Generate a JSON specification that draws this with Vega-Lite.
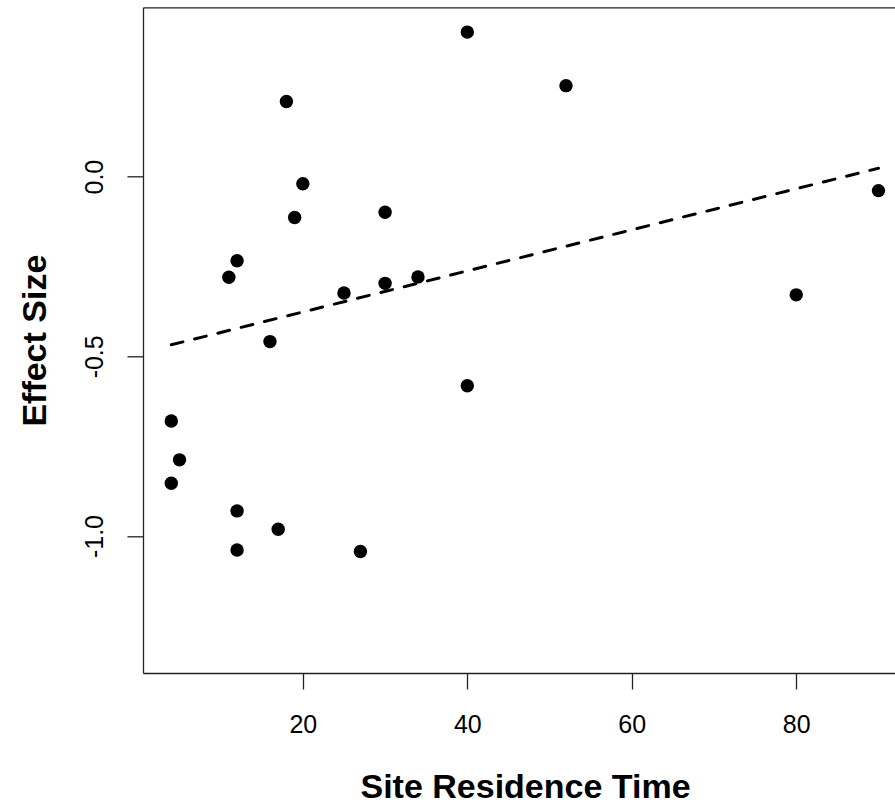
{
  "$schema": "https://vega.github.io/schema/vega-lite/v6.json",
  "width": 752,
  "height": 665.7,
  "autosize": {"type": "none"},
  "padding": {"left": 143, "top": 7.3, "right": 0, "bottom": 131},
  "background": "white",
  "config": {
    "view": {"stroke": null},
    "font": "Liberation Sans",
    "axis": {
      "grid": false,
      "domainColor": "#222",
      "domainWidth": 1.3,
      "tickColor": "#222",
      "tickWidth": 1.3,
      "tickSize": 16,
      "labelColor": "black",
      "labelFont": "Liberation Sans",
      "labelFontSize": 25,
      "labelFlush": false,
      "labelOverlap": false,
      "titleColor": "black",
      "titleFont": "Liberation Sans",
      "titleFontSize": 34,
      "titleFontWeight": "bold"
    }
  },
  "datasets": {
    "points": [
      {"time": 40, "effect": 0.402},
      {"time": 52, "effect": 0.253},
      {"time": 18, "effect": 0.209},
      {"time": 20, "effect": -0.020},
      {"time": 19, "effect": -0.114},
      {"time": 30, "effect": -0.099},
      {"time": 12, "effect": -0.234},
      {"time": 11, "effect": -0.280},
      {"time": 25, "effect": -0.324},
      {"time": 30, "effect": -0.297},
      {"time": 34, "effect": -0.279},
      {"time": 16, "effect": -0.459},
      {"time": 40, "effect": -0.582},
      {"time": 90, "effect": -0.039},
      {"time": 80, "effect": -0.329},
      {"time": 4, "effect": -0.680},
      {"time": 5, "effect": -0.788},
      {"time": 4, "effect": -0.853},
      {"time": 12, "effect": -0.930},
      {"time": 17, "effect": -0.981},
      {"time": 12, "effect": -1.039},
      {"time": 27, "effect": -1.043}
    ],
    "fit": [
      {"time": 4, "effect": -0.468},
      {"time": 90, "effect": 0.0233}
    ]
  },
  "resolve": {"axis": {"x": "independent"}},
  "layer": [
    {
      "data": {"name": "points"},
      "mark": {"type": "circle", "size": 180, "color": "black", "opacity": 1},
      "encoding": {
        "x": {
          "field": "time",
          "type": "quantitative",
          "scale": {"domain": [0.56, 92.01], "nice": false, "zero": false},
          "axis": {
            "orient": "bottom",
            "values": [20, 40, 60, 80],
            "labelPadding": 23,
            "title": "Site Residence Time",
            "titleX": 382,
            "titleY": 124,
            "titleBaseline": "alphabetic",
            "titleAlign": "center"
          }
        },
        "y": {
          "field": "effect",
          "type": "quantitative",
          "scale": {"domain": [-1.381, 0.471], "nice": false, "zero": false},
          "axis": {
            "orient": "left",
            "values": [-1, -0.5, 0],
            "labelExpr": "(datum.value < 0 ? '-' : '') + format(abs(datum.value), '.1f')",
            "labelAngle": 270,
            "labelAlign": "center",
            "labelBaseline": "alphabetic",
            "labelPadding": 25,
            "title": "Effect Size",
            "titleAngle": 270,
            "titleX": -98,
            "titleY": 332.85,
            "titleBaseline": "alphabetic",
            "titleAlign": "center"
          }
        }
      }
    },
    {
      "data": {"name": "fit"},
      "mark": {"type": "line", "color": "black", "strokeWidth": 3, "strokeDash": [12, 12], "strokeCap": "round"},
      "encoding": {
        "x": {
          "field": "time",
          "type": "quantitative",
          "axis": {"orient": "top", "ticks": false, "labels": false, "title": null}
        },
        "y": {"field": "effect", "type": "quantitative"}
      }
    }
  ]
}
